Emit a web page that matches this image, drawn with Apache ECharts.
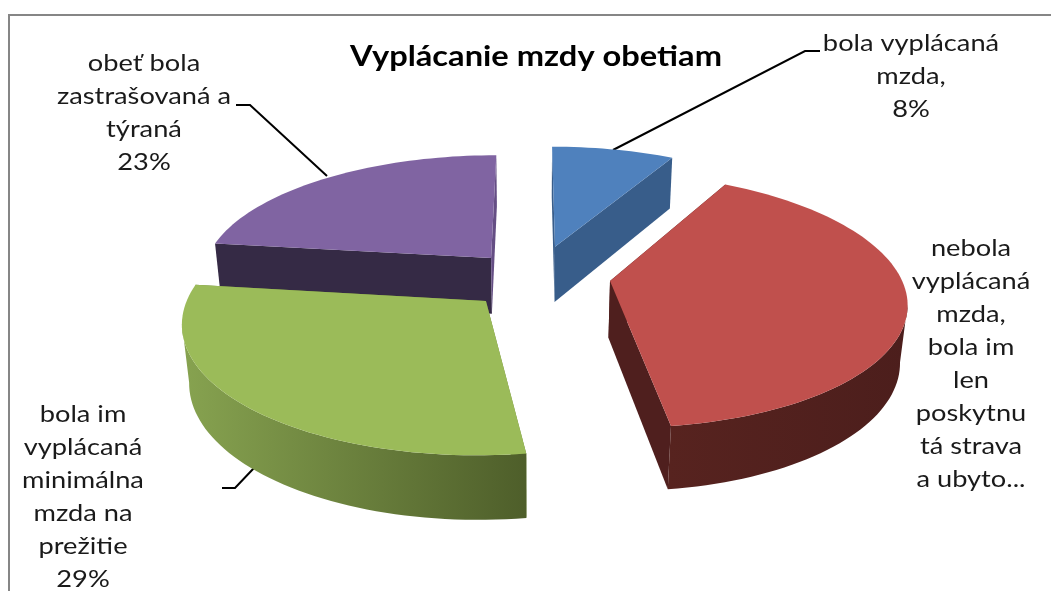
<!DOCTYPE html>
<html>
<head>
<meta charset="utf-8">
<title>Vyplácanie mzdy obetiam</title>
<style>
  html, body { margin: 0; padding: 0; background: #fff; }
  #chart { width: 1051px; height: 591px; }
</style>
<script src="https://cdn.jsdelivr.net/npm/echarts@6/dist/echarts.min.js"></script>
</head>
<body>
<div id="chart"></div>
<script>
const chartTitle = 'Vyplácanie mzdy obetiam'
const categories = [
  'bola vyplácaná\nmzda,\n8%',
  'nebola\nvyplácaná\nmzda,\nbola im\nlen\nposkytnu\ntá strava\na ubyto...',
  'bola im\nvyplácaná\nminimálna\nmzda na\nprežitie\n29%',
  'obeť bola\nzastrašovaná a\ntýraná\n23%'
]
const values = [8, 39.8, 29.2, 23]

// fake 3D pie: ECharts has no 3D pie without GL, so project the disc by hand
const view = { cx: 532, cy: 279, fx: 291.5, fy: 124, persp: 0.15, depth: 58, lowPush: 0.02 }
const explode = [[0.082, -0.27], [0.267, 0.016], [-0.154, 0.172], [-0.144, -0.174]]
const drawOrder = [3, 0, 2, 1]

const topColors = ['#4f81bd', '#c0504d', '#9bbb59', '#8064a2']
const startCutColors = ['#385d8a', '#4f1f1e', '#6d8439', '#352a45']
const endCutColors = ['#385d8a', '#4f1f1e', '#6d8439', '#654e84']
const wallStops = [
  ['#385d8a', '#385d8a'],
  ['#57231f', '#4c1e1c'],
  ['#87a350', '#4e5e2a'],
  ['#352a45', '#352a45']
]

const labelPos = [[911, 76], [971, 364], [83, 497], [144, 113]]
const leaders = [
  [[613, 150], [805, 51], [820, 51]],
  [],
  [[222, 488], [235, 488], [254, 468]],
  [[236, 105], [250, 105], [327, 176]]
]

const total = values.reduce((a, b) => a + b, 0)

function project(x, y, down) {
  const w = 1 - view.persp * y + (down ? view.lowPush : 0)
  return [
    view.cx + view.fx * x / w,
    view.cy + (view.fy * y + (down ? view.depth : 0)) / w
  ]
}

function renderSlice(params, api) {
  const i = api.value(0)
  const before = values.slice(0, i).reduce((a, b) => a + b, 0)
  const a0 = before / total * Math.PI * 2
  const a1 = (before + api.value(1)) / total * Math.PI * 2
  const [ex, ey] = explode[i]

  const rim = []
  const steps = Math.ceil((a1 - a0) / 0.03)
  for (let s = 0; s <= steps; s++) {
    const a = a0 + (a1 - a0) * s / steps
    rim.push([ex + Math.sin(a), ey - Math.cos(a)])
  }
  const topRim = rim.map(p => project(p[0], p[1], false))
  const lowRim = rim.map(p => project(p[0], p[1], true))
  const apexTop = project(ex, ey, false)
  const apexLow = project(ex, ey, true)
  const last = rim.length - 1

  // outer wall only runs between the rim's left and right extremes,
  // otherwise the polygon leaves a notch at the silhouette
  const xs = topRim.map(p => p[0])
  const minIdx = xs.indexOf(Math.min(...xs))
  const maxIdx = xs.indexOf(Math.max(...xs))
  const from = Math.min(minIdx, maxIdx)
  const to = Math.max(minIdx, maxIdx)
  const wallTop = topRim.slice(from, to + 1)
  const wallLow = lowRim.slice(from, to + 1).reverse()
  const facesViewer = rim.some(p => p[1] > ey)

  const poly = (points, fill) => ({
    type: 'polygon',
    shape: { points },
    style: { fill, stroke: null }
  })
  const wallFill = {
    type: 'linear', x: 0, y: 0, x2: 1, y2: 0,
    colorStops: [
      { offset: 0, color: wallStops[i][0] },
      { offset: 1, color: wallStops[i][1] }
    ]
  }

  const children = [
    poly([apexTop, topRim[0], lowRim[0], apexLow], startCutColors[i]),
    poly([apexTop, topRim[last], lowRim[last], apexLow], endCutColors[i])
  ]
  if (facesViewer) {
    children.push(poly(wallTop.concat(wallLow), wallFill))
  }
  children.push(poly([apexTop].concat(topRim), topColors[i]))

  return { type: 'group', children }
}

// reference text is stretched sideways, scaleX gets the same widths
const titleElement = {
  type: 'text',
  x: 536,
  y: 57,
  scaleX: 1.166,
  style: {
    text: chartTitle,
    fill: '#000',
    font: 'bold 28px Lato, "Open Sans", sans-serif',
    align: 'center',
    verticalAlign: 'middle'
  }
}

const labelElements = categories.map((text, i) => ({
  type: 'text',
  x: labelPos[i][0],
  y: labelPos[i][1],
  scaleX: 1.135,
  style: {
    text,
    fill: '#1a1a1a',
    font: '24px Lato, "Open Sans", sans-serif',
    lineHeight: 33,
    align: 'center',
    verticalAlign: 'middle'
  }
}))

const leaderElements = leaders.filter(l => l.length).map(points => ({
  type: 'polyline',
  shape: { points },
  style: { stroke: '#000', lineWidth: 2, fill: null }
}))

const chart = echarts.init(document.getElementById('chart'), null, { renderer: 'canvas' })
chart.setOption({
  animation: false,
  backgroundColor: '#fff',
  graphic: [
    {
      type: 'polyline',
      shape: { points: [[9, 591], [9, 15], [1051, 15]] },
      style: { stroke: '#868686', lineWidth: 2, fill: null }
    },
    titleElement
  ].concat(leaderElements, labelElements),
  series: [{
    type: 'custom',
    coordinateSystem: 'none',
    silent: true,
    renderItem: renderSlice,
    data: drawOrder.map(i => [i, values[i]])
  }]
})
</script>
</body>
</html>
